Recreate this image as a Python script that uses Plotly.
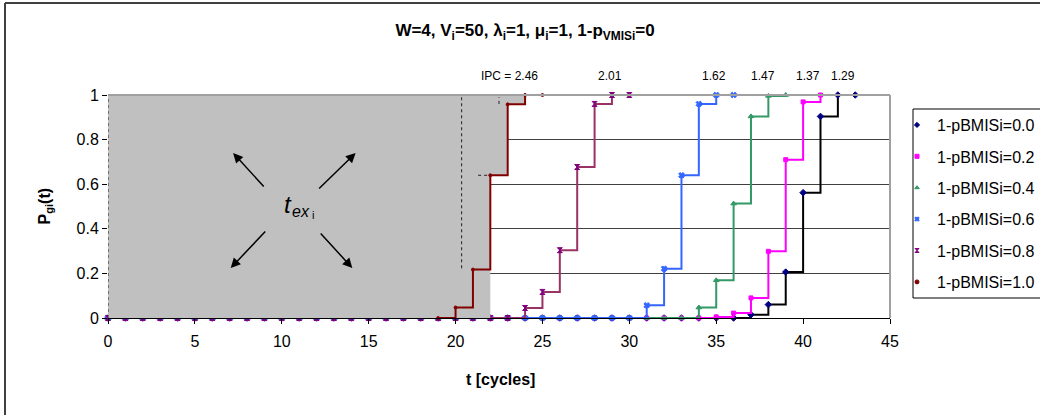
import plotly.graph_objects as go

# ---------------- data ----------------
series_names = ["1-pBMISi=0.0", "1-pBMISi=0.2", "1-pBMISi=0.4",
                "1-pBMISi=0.6", "1-pBMISi=0.8", "1-pBMISi=1.0"]

t_00 = list(range(0, 44))
v_00 = [0, 0, 0, 0, 0, 0, 0, 0, 0, 0, 0, 0, 0, 0, 0, 0, 0, 0, 0, 0,
        0, 0, 0, 0, 0, 0, 0, 0, 0, 0, 0, 0, 0, 0, 0, 0, 0,
        0.015, 0.06, 0.206, 0.562, 0.904, 1.0, 1.0]

t_02 = list(range(0, 42))
v_02 = [0, 0, 0, 0, 0, 0, 0, 0, 0, 0, 0, 0, 0, 0, 0, 0, 0, 0, 0, 0,
        0, 0, 0, 0, 0, 0, 0, 0, 0, 0, 0, 0, 0, 0, 0,
        0.005, 0.022, 0.09, 0.299, 0.71, 0.969, 1.0]

t_04 = list(range(0, 40))
v_04 = [0, 0, 0, 0, 0, 0, 0, 0, 0, 0, 0, 0, 0, 0, 0, 0, 0, 0, 0, 0,
        0, 0, 0, 0, 0, 0, 0, 0, 0, 0, 0, 0, 0, 0,
        0.047, 0.169, 0.513, 0.904, 0.996, 1.0]

t_06 = list(range(0, 37))
v_06 = [0, 0, 0, 0, 0, 0, 0, 0, 0, 0, 0, 0, 0, 0, 0, 0, 0, 0, 0, 0,
        0, 0, 0, 0, 0, 0, 0, 0, 0, 0, 0,
        0.057, 0.221, 0.64, 0.96, 1.0, 1.0]

t_08 = list(range(0, 31))
v_08 = [0, 0, 0, 0, 0, 0, 0, 0, 0, 0, 0, 0, 0, 0, 0, 0, 0, 0, 0, 0,
        0, 0, 0, 0,
        0.045, 0.117, 0.304, 0.677, 0.96, 1.0, 1.0]

t_10 = [19, 20, 21, 22, 23, 24, 25]
v_10 = [0, 0.047, 0.217, 0.64, 0.958, 1.0, 1.0]

# shaded execution-time region (t_ex_i)
shade_x = [0, 22, 22, 23, 23, 24, 24, 0]
shade_y = [-0.01, -0.01, 0.64, 0.64, 0.958, 0.958, 1.0, 1.0]

ipc_labels = ["IPC = 2.46", "2.01", "1.62", "1.47", "1.37", "1.29"]
ipc_x = [23.1, 28.9, 34.9, 37.7, 40.3, 42.3]

x_ticks = [0, 5, 10, 15, 20, 25, 30, 35, 40, 45]
y_ticks = [0, 0.2, 0.4, 0.6, 0.8, 1]

# ---------------- styles ----------------
FONT = "Arial, Liberation Sans, sans-serif"
styles = [
    dict(line="#000000", marker="#000080", symbol="diamond", size=5),
    dict(line="#FF00FF", marker="#FF00FF", symbol="square", size=4),
    dict(line="#339966", marker="#339966", symbol="triangle-up", size=5),
    dict(line="#3366FF", marker="#3366FF", symbol="x", size=5),
    dict(line="#993366", marker="#800080", symbol="hourglass", size=5),
    dict(line="#800000", marker="#800000", symbol="circle", size=3),
]
data_t = [t_00, t_02, t_04, t_06, t_08, t_10]
data_v = [v_00, v_02, v_04, v_06, v_08, v_10]

fig = go.Figure()

def add_series(i):
    s = styles[i]
    fig.add_trace(go.Scatter(
        x=data_t[i], y=data_v[i], mode="lines+markers", line_shape="hv",
        line=dict(color=s["line"], width=2),
        marker=dict(color=s["marker"], symbol=s["symbol"], size=s["size"],
                    line=dict(width=1, color=s["marker"])),
        showlegend=False, cliponaxis=False, hoverinfo="skip"))

for i in range(5):
    add_series(i)

fig.add_trace(go.Scatter(x=shade_x, y=shade_y, fill="toself", mode="lines",
                         fillcolor="#C0C0C0", line=dict(width=0),
                         showlegend=False, hoverinfo="skip"))
add_series(5)

# legend entries (marker only)
for i, name in enumerate(series_names):
    s = styles[i]
    fig.add_trace(go.Scatter(x=[None], y=[None], mode="markers", name=name,
                             marker=dict(color=s["marker"], symbol=s["symbol"],
                                         size=4, line=dict(width=1, color=s["marker"])),
                             legendgroup=name))

L, R, T, B = 108, 150, 95, 97
W, H = 1040, 415
pw, ph = W - L - R, H - T - B

def px2x(px):
    return (px - L) / pw

def py2y(py):
    return (H - B - py) / ph

shapes = []
# dotted guides
for x0, y0, x1, y1 in [(0, 0, 0, 1), (20.35, 0.223, 20.35, 0.99),
                       (22.5, 0.96, 22.5, 0.99), (21.3, 0.64, 22, 0.64)]:
    shapes.append(dict(type="line", xref="x", yref="y", x0=x0, y0=y0, x1=x1, y1=y1,
                       line=dict(color="#202020", width=1, dash="dot"), layer="above"))
# plot area border (top & right)
shapes.append(dict(type="line", xref="paper", yref="paper", x0=0, y0=1, x1=1, y1=1,
                   line=dict(color="#A0A0A0", width=2), layer="above"))
shapes.append(dict(type="line", xref="paper", yref="paper", x0=1, y0=0, x1=1, y1=1,
                   line=dict(color="#A0A0A0", width=2), layer="above"))
# chart outer border (left & top)
shapes.append(dict(type="line", xref="paper", yref="paper", x0=px2x(5), y0=py2y(3),
                   x1=px2x(5), y1=py2y(420), line=dict(color="#404040", width=2)))
shapes.append(dict(type="line", xref="paper", yref="paper", x0=px2x(5), y0=py2y(3),
                   x1=px2x(1045), y1=py2y(3), line=dict(color="#404040", width=2)))
# legend frame
shapes.append(dict(type="rect", xref="paper", yref="paper", x0=px2x(913), y0=py2y(109),
                   x1=px2x(1060), y1=py2y(298), line=dict(color="#000", width=1),
                   fillcolor="white", layer="above"))

annotations = []
for lab, xx in zip(ipc_labels, ipc_x):
    annotations.append(dict(x=xx, y=py2y(76), xref="x", yref="paper", text=lab,
                            showarrow=False, yanchor="middle",
                            font=dict(family=FONT, size=12, color="#000")))
# arrows around t_ex
arrow_defs = [(7.2, 0.74, 32, 35), (14.25, 0.74, -38, 37),
              (7.06, 0.224, 36, -38), (14.06, 0.224, -33, -36)]
for hx, hy, ax, ay in arrow_defs:
    annotations.append(dict(x=hx, y=hy, xref="x", yref="y", ax=ax, ay=ay, text="",
                            showarrow=True, arrowhead=2, arrowsize=1.3, arrowwidth=1.5,
                            arrowcolor="#000"))
annotations.append(dict(x=(282 - L) / pw * 45, y=py2y(204), xref="x", yref="paper",
                        text="<i>t</i>", showarrow=False, xanchor="left", yanchor="middle",
                        font=dict(family=FONT, size=24, color="#000")))
annotations.append(dict(x=(290 - L) / pw * 45, y=py2y(211), xref="x", yref="paper",
                        text="<i>ex</i>", showarrow=False, xanchor="left", yanchor="middle",
                        font=dict(family=FONT, size=16, color="#000")))
annotations.append(dict(x=(310 - L) / pw * 45, y=py2y(215), xref="x", yref="paper",
                        text="i", showarrow=False, xanchor="left", yanchor="middle",
                        font=dict(family=FONT, size=11, color="#000")))
# axis titles
annotations.append(dict(x=px2x(45), y=0.5, xref="paper", yref="paper",
                        text="<b>P<sub>gi</sub>(t)</b>", textangle=-90, showarrow=False,
                        xanchor="center", yanchor="middle",
                        font=dict(family=FONT, size=16, color="#000")))
annotations.append(dict(x=px2x(500), y=py2y(379), xref="paper", yref="paper",
                        text="<b>t [cycles]</b>", showarrow=False,
                        xanchor="center", yanchor="middle",
                        font=dict(family=FONT, size=16, color="#000")))

fig.update_layout(
    width=W, height=H, margin=dict(l=L, r=R, t=T, b=B, autoexpand=False),
    paper_bgcolor="white", plot_bgcolor="white",
    font=dict(family=FONT, size=16, color="#000"),
    title=dict(text="<b>W=4, V<sub>i</sub>=50, λ<sub>i</sub>=1, μ<sub>i</sub>=1, 1-p<sub>VMISi</sub>=0</b>",
               x=525 / W, xanchor="center", y=1 - 30 / H, yanchor="middle",
               font=dict(family=FONT, size=17, color="#000")),
    xaxis=dict(range=[0, 45], tickvals=x_ticks, ticks="outside", ticklen=5,
               tickcolor="#000", showline=True, linecolor="#000", linewidth=1,
               showgrid=False, zeroline=False, tickfont=dict(size=16),
               ticklabelstandoff=4),
    yaxis=dict(range=[0, 1], tickvals=y_ticks, ticks="outside", ticklen=5,
               tickcolor="#000", showline=False, showgrid=True, gridcolor="#404040",
               gridwidth=1, zeroline=False, tickfont=dict(size=16)),
    legend=dict(x=px2x(897), y=py2y(108), xanchor="left", yanchor="top",
                borderwidth=0, bgcolor="rgba(0,0,0,0)",
                font=dict(family=FONT, size=16), tracegroupgap=7.6,
                traceorder="grouped", itemwidth=30),
    shapes=shapes, annotations=annotations,
)

fig.write_html("out.html")
